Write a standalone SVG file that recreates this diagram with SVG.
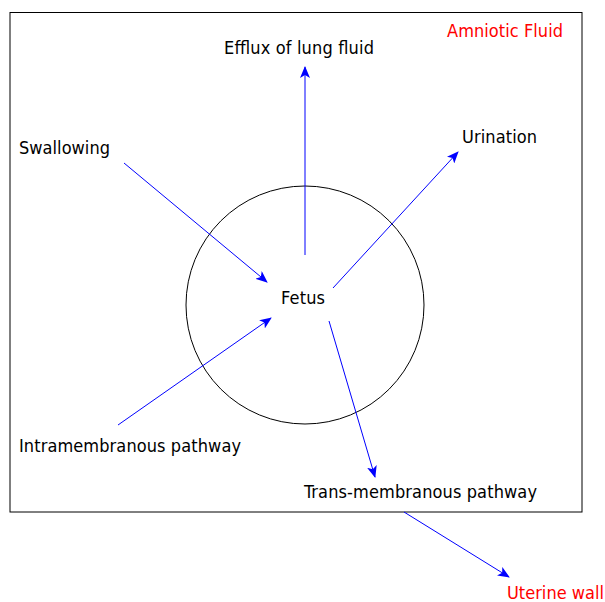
<svg xmlns="http://www.w3.org/2000/svg" width="605" height="602" viewBox="0 0 605 602">
<style>
text{font-family:"DejaVu Sans Condensed","DejaVu Sans",sans-serif;font-size:18px;fill:#000}
.red{fill:#ff0000}
.c{stroke:#0000ff;stroke-width:1;fill:none;marker-end:url(#ah)}
</style>
<defs>
<marker id="ah" viewBox="0 0 12 10" refX="11" refY="5" markerWidth="12" markerHeight="10" markerUnits="userSpaceOnUse" orient="auto">
<path d="M0,0 L12,5 L0,10 L3,5 Z" fill="#0000ff"/>
</marker>
</defs>
<rect x="10" y="12.5" width="572" height="499.5" fill="#fff" stroke="#000" stroke-width="1"/>
<g id="fetus">
<circle cx="305" cy="305" r="119" fill="none" stroke="#000" stroke-width="1"/>
<text x="281" y="304" textLength="44">Fetus</text>
</g>
<g id="amniotic"><text class="red" x="447" y="37" textLength="116">Amniotic Fluid</text></g>
<g id="efflux"><text x="224" y="54" textLength="150">Efflux of lung fluid</text></g>
<g id="swallowing"><text x="19" y="154" textLength="91">Swallowing</text></g>
<g id="urination"><text x="462" y="143" textLength="75">Urination</text></g>
<g id="intra"><text x="19" y="452" textLength="222">Intramembranous pathway</text></g>
<g id="trans"><text x="304" y="498" textLength="233">Trans-membranous pathway</text></g>
<g id="uterine"><text class="red" x="507" y="599" textLength="97">Uterine wall</text></g>
<g id="connectors">
<line class="c" x1="305" y1="255" x2="305" y2="67"/>
<line class="c" x1="124" y1="163" x2="267" y2="282"/>
<line class="c" x1="333" y1="288" x2="458" y2="152"/>
<line class="c" x1="118" y1="425" x2="271" y2="318"/>
<line class="c" x1="329" y1="321" x2="375" y2="477"/>
<line class="c" x1="404" y1="512" x2="509" y2="577"/>
</g>
</svg>
